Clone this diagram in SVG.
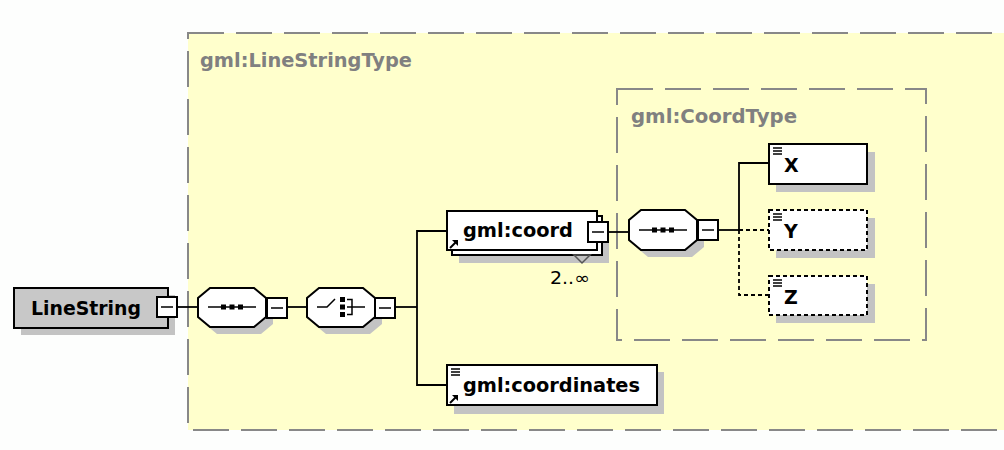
<svg xmlns="http://www.w3.org/2000/svg" width="1004" height="450" viewBox="0 0 1004 450">
<style>
.bg{fill:#fdfefd}
.type{fill:#ffffcc;stroke:#888;stroke-width:2;stroke-dasharray:36 12}
.tlabel{font-family:"DejaVu Sans",sans-serif;font-weight:bold;font-size:19px;fill:#808080}
.lbl{font-family:"DejaVu Sans",sans-serif;font-weight:bold;font-size:19px;fill:#000}
.occ{font-family:"DejaVu Sans",sans-serif;font-size:17px;fill:#000}
.shadow{fill:#c3c3c3}
.box{fill:#fff;stroke:#000;stroke-width:2}
.dbox{fill:#fff;stroke:#000;stroke-width:2;stroke-dasharray:4 3}
.gbox{fill:#c8c8c8;stroke:#000;stroke-width:2}
.ln{fill:none;stroke:#000;stroke-width:1.8}
.dln{fill:none;stroke:#000;stroke-width:1.8;stroke-dasharray:4 3}
.ico{fill:none;stroke:#000;stroke-width:1.5}
.sq{fill:#000}
</style>
<defs>
<g id="minus"><rect x="0" y="0" width="20" height="20" class="box"/><line x1="4" y1="10" x2="16" y2="10" class="ico"/></g>
<g id="docicon"><line x1="0" y1="0" x2="9" y2="0" class="ico"/><line x1="0" y1="3" x2="9" y2="3" class="ico"/><line x1="0" y1="6" x2="9" y2="6" class="ico"/></g>
<g id="refarrow"><line x1="0" y1="8" x2="6" y2="2" stroke="#000" stroke-width="2"/><polygon points="2,0 8,0 8,6" fill="#000"/></g>
</defs>
<rect class="bg" x="0" y="0" width="1004" height="450"/>

<g id="gml-LineStringType">
<rect class="type" x="188" y="33" width="830" height="397"/>
<text class="tlabel" x="200" y="67" textLength="212" lengthAdjust="spacingAndGlyphs">gml:LineStringType</text>
</g>
<g id="gml-CoordType">
<rect class="type" x="617" y="89" width="309" height="251"/>
<text class="tlabel" x="631" y="123" textLength="166" lengthAdjust="spacingAndGlyphs">gml:CoordType</text>
</g>

<g id="connectors">
<line class="ln" x1="177" y1="307" x2="198" y2="307"/>
<line class="ln" x1="287" y1="307" x2="307" y2="307"/>
<line class="ln" x1="395" y1="307" x2="417" y2="307"/>
<polyline class="ln" points="447,231 417,231 417,385 447,385"/>
<line class="ln" x1="608" y1="232" x2="629" y2="232"/>
<line class="ln" x1="718" y1="230" x2="739" y2="230"/>
<polyline class="ln" points="769,163 739,163 739,230"/>
<line class="dln" x1="739" y1="230" x2="769" y2="230"/>
<polyline class="dln" points="739,230 739,295 769,295"/>
</g>

<g id="LineString">
<rect class="shadow" x="21" y="295" width="154" height="40"/>
<rect class="gbox" x="14" y="288" width="154" height="40"/>
<text class="lbl" x="31" y="315" font-size="20" textLength="110" lengthAdjust="spacingAndGlyphs">LineString</text>
<use href="#minus" x="157" y="297"/>
</g>

<g id="sequence1">
<polygon class="shadow" points="217,295 261,295 273,305 273,324 261,334 217,334 205,324 205,305"/>
<polygon class="box" points="210,288 254,288 266,298 266,317 254,327 210,327 198,317 198,298"/>
<line class="ico" x1="208" y1="307" x2="256" y2="307"/>
<rect class="sq" x="221" y="304.5" width="5" height="5"/>
<rect class="sq" x="229.5" y="304.5" width="5" height="5"/>
<rect class="sq" x="238" y="304.5" width="5" height="5"/>
<use href="#minus" x="267" y="298"/>
</g>

<g id="choice">
<polygon class="shadow" points="326,295 370,295 382,305 382,324 370,334 326,334 314,324 314,305"/>
<polygon class="box" points="319,288 363,288 375,298 375,317 363,327 319,327 307,317 307,298"/>
<polyline class="ico" points="317,307 327,307 335,299"/>
<rect class="sq" x="340" y="297" width="5" height="5"/>
<rect class="sq" x="340" y="304.5" width="5" height="5"/>
<rect class="sq" x="340" y="312" width="5" height="5"/>
<polyline class="ico" points="347,299.5 352,299.5 352,314.5 347,314.5"/>
<line class="ico" x1="347" y1="307" x2="365" y2="307"/>
<use href="#minus" x="375" y="298"/>
</g>

<g id="gml-coord">
<rect class="shadow" x="459" y="223" width="150" height="40"/>
<rect class="box" x="452" y="216" width="150" height="39"/>
<rect class="box" x="447" y="211" width="150" height="39"/>
<text class="lbl" x="463" y="237" textLength="110" lengthAdjust="spacingAndGlyphs">gml:coord</text>
<use href="#refarrow" x="450" y="240"/>
<use href="#minus" x="588" y="222"/>
<polygon points="574,255 590,255 582,263" fill="none" stroke="#555" stroke-width="1.5"/>
<text class="occ" x="550" y="284" textLength="40" lengthAdjust="spacingAndGlyphs">2..∞</text>
</g>

<g id="gml-coordinates">
<rect class="shadow" x="454" y="372" width="210" height="42"/>
<rect class="box" x="447" y="365" width="210" height="40"/>
<use href="#docicon" x="451" y="369"/>
<text class="lbl" x="463" y="392" textLength="177" lengthAdjust="spacingAndGlyphs">gml:coordinates</text>
<use href="#refarrow" x="450" y="395"/>
</g>

<g id="sequence2">
<polygon class="shadow" points="648,217 692,217 704,227 704,247 692,257 648,257 636,247 636,227"/>
<polygon class="box" points="641,210 685,210 697,220 697,240 685,250 641,250 629,240 629,220"/>
<line class="ico" x1="639" y1="230" x2="687" y2="230"/>
<rect class="sq" x="652" y="227.5" width="5" height="5"/>
<rect class="sq" x="660.5" y="227.5" width="5" height="5"/>
<rect class="sq" x="669" y="227.5" width="5" height="5"/>
<use href="#minus" x="698" y="220"/>
</g>

<g id="X">
<rect class="shadow" x="776" y="152" width="99" height="40"/>
<rect class="box" x="769" y="144" width="98" height="40"/>
<use href="#docicon" x="773" y="148"/>
<text class="lbl" x="784" y="172">X</text>
</g>
<g id="Y">
<rect class="shadow" x="776" y="218" width="99" height="40"/>
<rect class="dbox" x="769" y="210" width="98" height="40"/>
<use href="#docicon" x="773" y="214"/>
<text class="lbl" x="784" y="238">Y</text>
</g>
<g id="Z">
<rect class="shadow" x="776" y="284" width="99" height="39"/>
<rect class="dbox" x="769" y="276" width="98" height="39"/>
<use href="#docicon" x="773" y="280"/>
<text class="lbl" x="784" y="304">Z</text>
</g>
</svg>
